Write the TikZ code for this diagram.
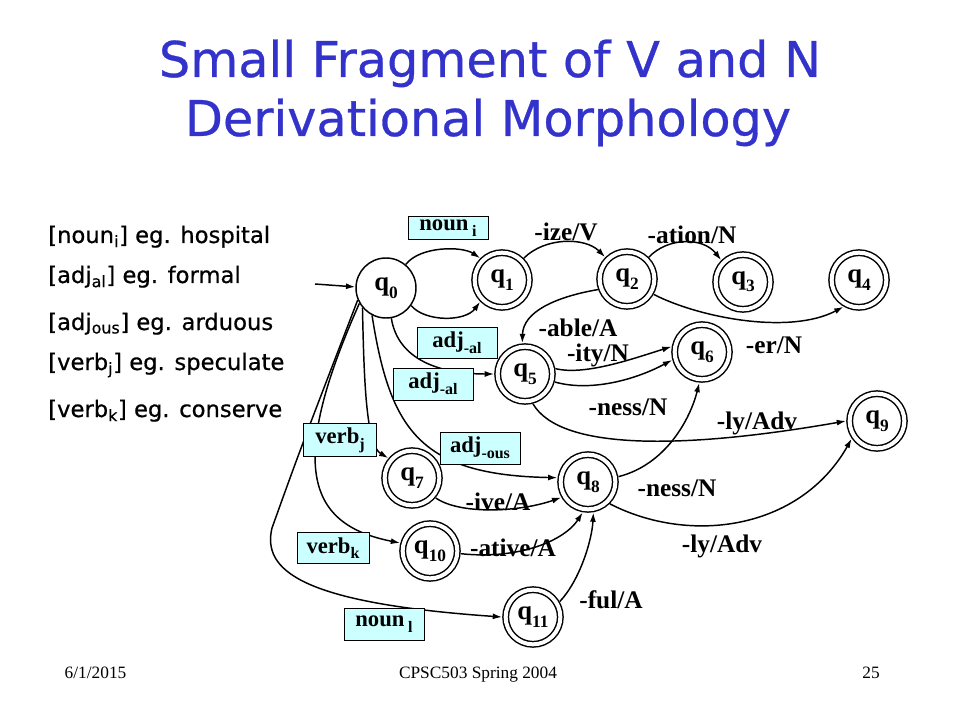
\documentclass[tikz,border=0pt]{standalone}
\usepackage{fontspec}
\setmainfont{Liberation Serif}
\newfontfamily\comicfont[FakeBold=0.6]{DejaVu Sans}
\usetikzlibrary{arrows.meta}

\definecolor{titleblue}{RGB}{51,51,204}
\definecolor{catcyan}{RGB}{204,255,255}

\newcommand{\qlab}[1]{q\raisebox{-0.6ex}{\fontsize{13}{13}\selectfont #1}}
\newcommand{\catsub}[1]{\raisebox{-0.55ex}{\fontsize{12}{12}\selectfont #1}}

\tikzset{
  qstart/.style={circle, draw, line width=1.1pt, minimum size=45pt, inner sep=0pt,
    font=\bfseries\fontsize{20}{20}\selectfont},
  qfinal/.style={qstart, double, double distance=3pt, minimum size=41pt, outer sep=2.7pt},
  catbox/.style={draw, line width=0.6pt, fill=catcyan, inner sep=0pt,
    minimum width=60pt, minimum height=23pt, font=\bfseries\fontsize{17}{17}\selectfont},
  edgelabel/.style={inner sep=0pt, font=\bfseries\fontsize{19}{19}\selectfont},
  arc/.style={line width=1.1pt, -{Latex[length=7pt,width=4.5pt]}},
  legend/.style={anchor=base west, inner sep=0pt, font=\comicfont\fontsize{17}{17}\selectfont},
}

\begin{document}
\begin{tikzpicture}[x=0.75pt, y=-0.75pt]
\useasboundingbox (0,0) rectangle (960,720);

% Title
\node[anchor=base, text=titleblue, font=\comicfont\fontsize{37}{37}\selectfont] (title1) at (490,77) {Small Fragment of V and N};
\node[anchor=base, text=titleblue, font=\comicfont\fontsize{37}{37}\selectfont] (title2) at (488,136) {Derivational Morphology};

% Legend on the left
\node[legend] (lnoun) at (48,243) {[noun\textsubscript{i}] eg. hospital};
\node[legend] (ladjal) at (48,283) {[adj\textsubscript{al}] eg. formal};
\node[legend] (ladjous) at (48,330) {[adj\textsubscript{ous}] eg. arduous};
\node[legend] (lverbj) at (48,370) {[verb\textsubscript{j}] eg. speculate};
\node[legend] (lverbk) at (48,417) {[verb\textsubscript{k}] eg. conserve};

% States
\node[qstart] (q0) at (386,288) {\qlab{0}};
\node[qfinal] (q1) at (502,280) {\qlab{1}};
\node[qfinal] (q2) at (627,279) {\qlab{2}};
\node[qfinal] (q3) at (743,282) {\qlab{3}};
\node[qfinal] (q4) at (859,280) {\qlab{4}};
\node[qfinal] (q5) at (525,374) {\qlab{5}};
\node[qfinal] (q6) at (702,352) {\qlab{6}};
\node[qfinal] (q9) at (877,421) {\qlab{9}};
\node[qfinal] (q7) at (412,478) {\qlab{7}};
\node[qfinal] (q8) at (588,482) {\qlab{8}};
\node[qfinal] (q10) at (430,551) {\qlab{10}};
\node[qfinal] (q11) at (533,617) {\qlab{11}};

% Start arrow
\coordinate (entry) at (315,284);
\draw[arc] (entry) -- (q0.178);

% Transitions
\draw[arc] (q0.50) .. controls (420,246) and (462,246) .. (q1.135);
\draw[arc] (q0.-35) .. controls (425,322) and (465,322) .. (q1.-135);
\draw[arc] (q1.45) .. controls (545,237) and (585,237) .. (q2.135);
\draw[arc] (q2.45) .. controls (668,237) and (703,237) .. (q3.135);
\draw[arc] (q2.-30) .. controls (700,318) and (790,335) .. (q4.-120);
\draw[arc] (q2.-160) .. controls (555,297) and (523,312) .. (q5.95);
\draw[arc] (q5.10) .. controls (585,376) and (635,358) .. (q6.170);
\draw[arc] (q5.-15) .. controls (590,392) and (635,380) .. (q6.-165);
\draw[arc] (q5.-75) .. controls (560,450) and (680,450) .. (q9.180);
\draw[arc] (q0.-80) .. controls (398,360) and (440,374) .. (q5.180);
\draw[arc] (q0.-117) .. controls (390,430) and (420,475) .. (q8.172);
\draw[arc] (q0.-140) .. controls (364,380) and (366,445) .. (q7.140);
\draw[arc] (q0.-150) .. controls (285,470) and (310,525) .. (q10.165);
\draw[arc] (q0.-157) .. controls (300,450) .. (272,528) .. controls (262,570) and (300,603) .. (q11.180);
\draw[arc] (q7.-40) .. controls (460,515) and (520,512) .. (q8.-150);
\draw[arc] (q10.-5) .. controls (520,560) and (565,540) .. (q8.-100);
\draw[arc] (q11.30) .. controls (580,580) and (592,540) .. (q8.-80);
\draw[arc] (q8.10) .. controls (665,465) and (690,420) .. (q6.-95);
\draw[arc] (q8.-45) .. controls (690,545) and (800,530) .. (q9.-145);

% Category boxes
\node[catbox, minimum height=17pt] (nouni) at (448,228) {noun\,\catsub{i}};
\node[catbox] (adjal) at (457,343) {adj\catsub{-al}};
\node[catbox, minimum height=24pt] (adjalb) at (433,384) {adj\catsub{-al}};
\node[catbox, minimum height=24pt] (adjous) at (480,448) {adj\catsub{-ous}};
\node[catbox, minimum width=55pt, minimum height=25pt] (verbj) at (340,440) {verb\catsub{j}};
\node[catbox, minimum width=54pt] (verbk) at (333,548) {verb\catsub{k}};
\node[catbox, minimum height=24pt] (nounl) at (384,624) {noun\,\catsub{l}};

% Suffix labels
\node[edgelabel] (lize) at (566,232) {-ize/V};
\node[edgelabel] (lation) at (692,235) {-ation/N};
\node[edgelabel] (lable) at (578,328) {-able/A};
\node[edgelabel] (lity) at (598,355) {-ity/N};
\node[edgelabel] (ler) at (774,345) {-er/N};
\node[edgelabel] (lness) at (628,407) {-ness/N};
\node[edgelabel] (lly) at (757,423) {-ly/Adv};
\node[edgelabel] (lnessb) at (677,488) {-ness/N};
\node[edgelabel] (llyb) at (722,546) {-ly/Adv};
\node[edgelabel] (live) at (498,502) {-ive/A};
\node[edgelabel] (lative) at (513,548) {-ative/A};
\node[edgelabel] (lful) at (611,600) {-ful/A};

% Footer
\node[anchor=base west, font=\fontsize{13}{13}\selectfont] (date) at (60,678) {6/1/2015};
\node[anchor=base, font=\fontsize{13}{13}\selectfont] (course) at (478,678) {CPSC503 Spring 2004};
\node[anchor=base, font=\fontsize{13}{13}\selectfont] (page) at (871,678) {25};
\end{tikzpicture}
\end{document}
